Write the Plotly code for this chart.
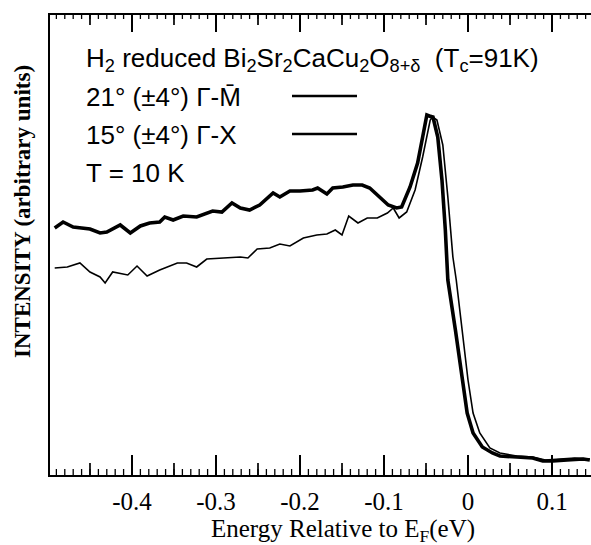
import plotly.graph_objects as go

# ---------------- data ----------------
# Gamma-M (thick curve)
e_gm = [-0.492, -0.482, -0.470, -0.450, -0.438, -0.430, -0.414, -0.402, -0.390, -0.379,
        -0.367, -0.361, -0.351, -0.339, -0.323, -0.304, -0.293, -0.281, -0.271, -0.260,
        -0.248, -0.232, -0.224, -0.212, -0.200, -0.185, -0.179, -0.168, -0.161, -0.149,
        -0.137, -0.126, -0.117, -0.105, -0.095, -0.085, -0.079, -0.069, -0.060, -0.054,
        -0.049, -0.043, -0.042, -0.036, -0.031, -0.027, -0.024, -0.015, -0.007, -0.001,
        0.006, 0.017, 0.029, 0.038, 0.058, 0.077, 0.089, 0.101, 0.118, 0.137, 0.145]
i_gm = [247, 253, 248, 246, 242, 243, 250, 242, 249, 252,
        253, 258, 255, 259, 258, 264, 263, 272, 267, 265,
        270, 282, 278, 284, 284, 285, 287, 281, 287, 288,
        290, 290, 287, 278, 270, 267, 268, 288, 312, 338,
        360, 358, 359, 338, 295, 245, 195, 145, 95, 62,
        42, 28, 22, 19, 18, 17, 14, 14, 15, 16, 15]

# Gamma-X (thin curve)
e_gx = [-0.492, -0.477, -0.462, -0.450, -0.438, -0.432, -0.423, -0.405, -0.394, -0.382,
        -0.367, -0.346, -0.335, -0.323, -0.311, -0.287, -0.271, -0.262, -0.251, -0.236,
        -0.224, -0.212, -0.196, -0.180, -0.168, -0.158, -0.150, -0.142, -0.131, -0.120,
        -0.108, -0.096, -0.089, -0.082, -0.073, -0.063, -0.054, -0.045, -0.042, -0.037,
        -0.030, -0.024, -0.018, -0.014, -0.007, 0.000, 0.006, 0.014, 0.026, 0.038,
        0.058, 0.077, 0.092, 0.110, 0.127, 0.145]
i_gx = [207, 208, 212, 203, 198, 192, 203, 200, 209, 199,
        205, 212, 212, 208, 216, 217, 218, 217, 226, 227,
        231, 229, 237, 240, 241, 245, 240, 259, 252, 257,
        257, 262, 267, 257, 263, 285, 318, 355, 358, 355,
        330, 278, 218, 195, 145, 95, 62, 42, 27, 22,
        19, 18, 15, 16, 17, 16]

tick_vals = [-0.4, -0.3, -0.2, -0.1, 0.0, 0.1]
tick_text = ["-0.4", "-0.3", "-0.2", "-0.1", "0", "0.1"]
mid_tick_vals = [-0.45, -0.35, -0.25, -0.15, -0.05, 0.05]
minor_tick_vals = [round(k / 100.0, 2) for k in range(-49, 15)]

x_range = [-0.4976, 0.1464]
y_range = [0, 460]   # plot area is 460 px tall, so one intensity unit = 1 px

title_line = "H<sub>2</sub> reduced Bi<sub>2</sub>Sr<sub>2</sub>CaCu<sub>2</sub>O<sub>8+δ</sub>  (T<sub>c</sub>=91K)"
label_gm = "21° (±4°) Γ-M\u0304"
label_gx = "15° (±4°) Γ-X"
label_t = "T = 10 K"

# ---------------- figure ----------------
fig = go.Figure()

# inside tick marks on the bottom and top axes, built from the tick-value lists
def tick_trace(values, len_bottom, len_top, width):
    xs, ys = [], []
    lo, hi = y_range
    for v in values:
        xs += [v, v, None, v, v, None]
        ys += [lo, lo + len_bottom, None, hi, hi - len_top, None]
    fig.add_trace(go.Scatter(x=xs, y=ys, mode="lines", cliponaxis=False,
                             line=dict(color="black", width=width),
                             hoverinfo="skip", showlegend=False))

tick_trace(minor_tick_vals, 6, 4, 1.3)
tick_trace(mid_tick_vals, 12, 10, 1.7)
tick_trace(tick_vals, 20, 17, 2.0)

fig.add_trace(go.Scatter(x=e_gm, y=i_gm, mode="lines",
                         line=dict(color="black", width=3.6), hoverinfo="skip"))
fig.add_trace(go.Scatter(x=e_gx, y=i_gx, mode="lines",
                         line=dict(color="black", width=1.6), hoverinfo="skip"))

sans = "Liberation Sans, Arial, sans-serif"
serif = "Liberation Serif, Times New Roman, serif"

PLOT_H = 460.0

fig.update_layout(
    template="none",
    width=591, height=545,
    margin=dict(l=50, r=0, t=15, b=70),
    paper_bgcolor="white", plot_bgcolor="white",
    showlegend=False,
    xaxis=dict(range=x_range, showgrid=False, zeroline=False,
               showline=True, linecolor="black", linewidth=2.2, mirror=True,
               ticks="", tickmode="array", tickvals=tick_vals, ticktext=tick_text,
               ticklabelstandoff=3,
               tickfont=dict(family=serif, size=25, color="black")),
    yaxis=dict(range=y_range, showgrid=False, zeroline=False,
               showline=True, linecolor="black", linewidth=1.5,
               ticks="", showticklabels=False),
)

def px_x(p):
    return (p - 50) / 541.0

def px_y(p):
    return (475 - p) / PLOT_H

ann = [
    dict(text=title_line, y=59),
    dict(text=label_gm, y=97),
    dict(text=label_gx, y=135),
    dict(text=label_t, y=173),
]
for a in ann:
    fig.add_annotation(text=a["text"], x=px_x(84), y=px_y(a["y"]), xref="paper", yref="paper",
                       xanchor="left", yanchor="middle", showarrow=False,
                       font=dict(family=sans, size=26, color="black"))

fig.add_annotation(text="Energy Relative to E<sub>F</sub>(eV)", x=px_x(343), y=px_y(530),
                   xref="paper", yref="paper", xanchor="center", yanchor="middle",
                   showarrow=False, font=dict(family=serif, size=25, color="black"))
fig.add_annotation(text="<b>INTENSITY (arbitrary units)</b>", x=px_x(22), y=px_y(212),
                   xref="paper", yref="paper", xanchor="center", yanchor="middle",
                   textangle=-90, showarrow=False,
                   font=dict(family=serif, size=23, color="black"))

# legend keys
for yy in (96, 134):
    fig.add_shape(type="line", xref="paper", yref="paper",
                  x0=px_x(292), x1=px_x(357), y0=px_y(yy), y1=px_y(yy),
                  line=dict(color="black", width=2.5))

fig.write_html("out.html", config={"displayModeBar": False},
               post_script="document.body.style.margin='0';")
